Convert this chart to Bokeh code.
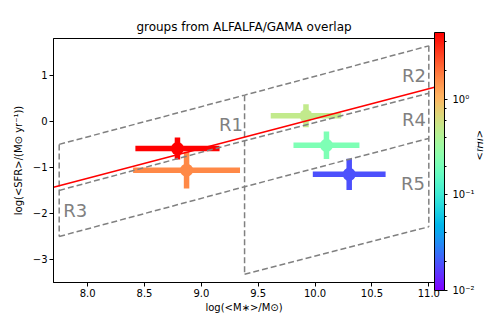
import numpy as np
from bokeh.plotting import figure
from bokeh.models import (ColumnDataSource, FixedTicker, ColorBar, LogColorMapper,
                          LogTicker, CustomJSTickFormatter, LabelSet, LinearAxis)
from bokeh.core.properties import value
from bokeh.transform import log_cmap
from bokeh.embed import file_html
from bokeh.resources import INLINE

# ---- data ----
log_mass = [8.79, 8.87, 9.92, 10.10, 10.30]
log_mass_err = [0.37, 0.47, 0.31, 0.29, 0.32]
log_sfr = [-0.59, -1.06, 0.12, -0.52, -1.15]
log_sfr_err = [0.24, 0.40, 0.25, 0.30, 0.34]
f_hi = [5.0, 1.6, 0.5, 0.22, 0.019]

# main sequence line end points
ms_x = [7.7, 11.05]
ms_y = [-1.43, 0.74]

# region boundaries: stellar-mass edges and SFR value of each sloped boundary there
edge_mass = [7.75, 9.38, 11.0]
bound_top = [-0.5, 0.57, 1.64]
bound_mid = [-1.5, -0.42, 0.61]
bound_low = [-2.5, -1.42, -0.37]
bound_r5 = [None, -3.32, -2.29]

region_names = ["R1", "R2", "R3", "R4", "R5"]
label_x = [9.26, 10.87, 7.89, 10.87, 10.86]
label_y = [-0.06, 0.99, -1.93, 0.05, -1.36]

x_ticks = [8.0, 8.5, 9.0, 9.5, 10.0, 10.5, 11.0]
y_ticks = [-3, -2, -1, 0, 1]

# rainbow colormap (matplotlib 'rainbow')
def rainbow(n=256):
    cols = []
    for t in np.linspace(0, 1, n):
        r = min(1.0, abs(2 * t - 0.5))
        g = max(np.sin(np.pi * t), 0)
        b = max(np.cos(np.pi * t / 2), 0)
        cols.append("#%02x%02x%02x" % (int(round(r * 255)), int(round(g * 255)),
                                       int(round(b * 255))))
    return cols

palette = rainbow()
fmin, fmax = 0.01, 5.0

order = list(np.argsort(f_hi))

p = figure(frame_width=381, frame_height=244, x_range=(7.7, 11.05), y_range=(-3.5, 1.8),
           output_backend="svg", toolbar_location=None,
           title="groups from ALFALFA/GAMA overlap",
           min_border_left=53, min_border_right=0, min_border_top=38, min_border_bottom=30)
p.grid.visible = False
p.outline_line_color = "black"
p.outline_line_alpha = 1
p.background_fill_color = "white"
p.border_fill_color = "white"
p.title.align = "center"
p.title.text_font = "DejaVu Sans"
p.title.text_font_size = "12px"
p.title.text_font_style = "normal"
p.title.text_color = "black"

cmap = log_cmap("f", palette, fmin, fmax)
# error bars + markers, drawn one group at a time (ascending f_HI)
for i in order:
    view = ColumnDataSource(dict(
        x=[log_mass[i]], y=[log_sfr[i]],
        x0=[log_mass[i] - log_mass_err[i]], x1=[log_mass[i] + log_mass_err[i]],
        y0=[log_sfr[i] - log_sfr_err[i]], y1=[log_sfr[i] + log_sfr_err[i]],
        f=[f_hi[i]]))
    p.segment("x0", "y", "x1", "y", source=view, line_color=cmap, line_width=5.5,
              line_cap="butt")
    p.segment("x", "y0", "x", "y1", source=view, line_color=cmap, line_width=5.5,
              line_cap="butt")
    p.scatter("x", "y", source=view, size=13, fill_color=cmap, line_color=None)

# dashed region boundaries
bxs, bys = [], []
for b in (bound_top, bound_mid, bound_low):
    bxs.append(edge_mass)
    bys.append(b)
bxs.append(edge_mass[1:])
bys.append(bound_r5[1:])
bxs.append([edge_mass[0], edge_mass[0]])
bys.append([bound_top[0], bound_low[0]])
bxs.append([edge_mass[1], edge_mass[1]])
bys.append([bound_top[1], bound_r5[1]])
bxs.append([edge_mass[2], edge_mass[2]])
bys.append([bound_top[2], bound_r5[2]])
p.multi_line(bxs, bys, line_color="#808080", line_width=1.5, line_dash="6 3")
p.line(ms_x, ms_y, line_color="red", line_width=1.5)

lab_src = ColumnDataSource(dict(x=label_x, y=label_y, t=region_names))
p.add_layout(LabelSet(x="x", y="y", text="t", source=lab_src, text_align="center",
                      text_baseline="middle", text_color="#808080",
                      text_font=value("DejaVu Sans"), text_font_size="18px"))

for ax in (p.xaxis[0], p.yaxis[0]):
    ax.major_tick_in = 0
    ax.major_tick_out = 4
    ax.minor_tick_line_color = None
    ax.axis_line_color = "black"
    ax.major_label_text_font = "DejaVu Sans"
    ax.major_label_text_font_size = "10px"
    ax.major_label_text_color = "black"
    ax.axis_label_text_font = "DejaVu Sans"
    ax.axis_label_text_font_size = "10px"
    ax.axis_label_text_font_style = "normal"
    ax.axis_label_text_color = "black"
    ax.axis_label_standoff = 2
    ax.major_label_standoff = 2

p.xaxis.ticker = FixedTicker(ticks=x_ticks)
p.xaxis.major_label_overrides = {t: "%.1f" % t for t in x_ticks}
p.yaxis.ticker = FixedTicker(ticks=y_ticks)
p.yaxis.major_label_overrides = {t: str(t).replace("-", "\u2212") for t in y_ticks}
p.yaxis.axis_label_standoff = 6
p.xaxis.axis_label = "log(<M\u2217>/M\u2299)"
p.yaxis.axis_label = "log(<SFR>/(M\u2299 yr\u207b\u00b9))"

mapper = LogColorMapper(palette=palette, low=fmin, high=fmax)
fmt = CustomJSTickFormatter(code="""
const e = Math.round(Math.log10(tick));
const sup = {'0':'\u2070','1':'\u00b9','2':'\u00b2','-':'\u207b'};
return '10' + String(e).split('').map(c => sup[c]).join('');
""")
cb = ColorBar(color_mapper=mapper, ticker=LogTicker(), formatter=fmt, width=10,
              height=258, location=(0, -8),
              padding=0, margin=0, bar_line_color="black",
              major_tick_in=0, major_tick_out=3, minor_tick_in=0, minor_tick_out=2,
              major_tick_line_color="black", minor_tick_line_color="black",
              major_label_text_font="DejaVu Sans", major_label_text_font_size="10px",
              major_label_text_color="black", label_standoff=5)
p.add_layout(cb, "right")

cb_title = LinearAxis(ticker=FixedTicker(ticks=[]), axis_label="<fHI>",
                      axis_line_color=None, major_tick_line_color=None,
                      minor_tick_line_color=None, major_label_text_font_size="0px",
                      major_tick_out=0, major_tick_in=0, minor_tick_out=0, minor_tick_in=0,
                      major_label_standoff=0,
                      axis_label_text_font="DejaVu Sans", axis_label_text_font_size="10px",
                      axis_label_text_font_style="italic", axis_label_text_color="black",
                      axis_label_text_align="right",
                      axis_label_standoff=2, axis_label_orientation=np.pi / 2)
p.add_layout(cb_title, "right")

open("out.html", "w").write(file_html(p, INLINE))
